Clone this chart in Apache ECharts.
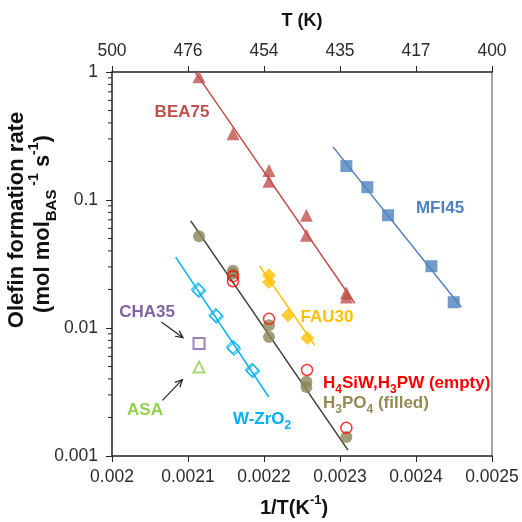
<!DOCTYPE html>
<html><head><meta charset="utf-8">
<script src="https://cdn.jsdelivr.net/npm/echarts@6/dist/echarts.min.js"></script>
<style>html,body{margin:0;padding:0;background:#fff}#c{width:522px;height:522px}</style>
</head><body><div id="c"></div>
<script>
// ---- tick labels ----
const xTickLabels = ['0.002','0.0021','0.0022','0.0023','0.0024','0.0025'];
const tTickLabels = ['500','476','454','435','417','400'];
const yTickLabels = ['0.001','0.01','0.1','1'];
const yMinorTicks = [0.002,0.003,0.004,0.005,0.006,0.007,0.008,0.009,
                     0.02,0.03,0.04,0.05,0.06,0.07,0.08,0.09,
                     0.2,0.3,0.4,0.5,0.6,0.7,0.8,0.9];

// ---- data (x = 1/T in K^-1, y = olefin formation rate) ----
const bea75X = [0.0021145,0.0021592,0.0022066,0.0022066,0.0022558,0.0022558,0.0023084,0.0023084];
const bea75Y = [0.92,0.33,0.17,0.14,0.076,0.053,0.0188,0.0175];
const bea75FitX = [0.00211,0.0023193];
const bea75FitY = [0.99,0.0156];

const mfi45X = [0.0023084,0.002336,0.0023632,0.0024203,0.0024496];
const mfi45Y = [0.184,0.126,0.076,0.0304,0.0159];
const mfi45FitX = [0.0022908,0.0024597];
const mfi45FitY = [0.26,0.01452];

const fau30X = [0.0022066,0.0022066,0.0022316,0.0022571];
const fau30Y = [0.0258,0.0229,0.01257,0.00835];
const fau30FitX = [0.0021943,0.0022667];
const fau30FitY = [0.0305,0.00732];

const wzrX = [0.0021132,0.0021145,0.0021364,0.0021375,0.0021592,0.0021605,0.0021842,0.0021855];
const wzrY = [0.0200,0.0195,0.0126,0.0123,0.0071,0.0069,0.0047,0.0046];
const wzrFitX = [0.0020838,0.0022062];
const wzrFitY = [0.0358,0.00289];

const hpaX = [0.0021592,0.0021592,0.0022066,0.0022566,0.0023084];
const hpaY = [0.0254,0.0232,0.0118,0.0047,0.00166];

const h3po4X = [0.0021145,0.0021592,0.0021592,0.0022066,0.0022066,0.0022558,0.0022558,0.0023084];
const h3po4Y = [0.052,0.028,0.0265,0.0105,0.0085,0.0038,0.00346,0.00141];
const h3po4FitX = [0.0021036,0.0023105];
const h3po4FitY = [0.0686,0.00111];

const cha35X = [0.0021145];
const cha35Y = [0.00755];
const asaX = [0.0021145];
const asaY = [0.00496];

const chaArrowX = [0.002065,0.0020934];
const chaArrowY = [0.01114,0.0084];
const asaArrowX = [0.0020663,0.0020926];
const asaArrowY = [0.00272,0.00395];

const FONT = 'Liberation Sans, Arial, sans-serif';
const zip = (xs, ys) => xs.map((x, i) => [x, ys[i]]);

const scatter = (name, xs, ys, symbol, size, itemStyle, z) => ({
  name, type: 'scatter', data: zip(xs, ys), symbol, symbolSize: size,
  itemStyle, z: z || 3, silent: true
});
const fit = (name, xs, ys, color, w) => ({
  name, type: 'line', data: zip(xs, ys), symbol: 'none', silent: true,
  lineStyle: { color, width: w || 1.5 }, z: 2
});
const arrow = (xs, ys) => ({
  type: 'custom', silent: true, clip: false, z: 6,
  data: [[xs[0], ys[0], xs[1], ys[1]]],
  renderItem: (params, api) => {
    const a = api.coord([api.value(0), api.value(1)]);
    const b = api.coord([api.value(2), api.value(3)]);
    const ang = Math.atan2(b[1] - a[1], b[0] - a[0]);
    const L = 8, w = 0.45;
    const h1 = [b[0] - L * Math.cos(ang - w), b[1] - L * Math.sin(ang - w)];
    const h2 = [b[0] - L * Math.cos(ang + w), b[1] - L * Math.sin(ang + w)];
    return { type: 'group', children: [
      { type: 'line', shape: { x1: a[0], y1: a[1], x2: b[0], y2: b[1] }, style: { stroke: '#222', lineWidth: 1.2 } },
      { type: 'polyline', shape: { points: [h1, b, h2] }, style: { stroke: '#222', lineWidth: 1.2, fill: null } }
    ] };
  }
});

const chart = echarts.init(document.getElementById('c'), null, { renderer: 'canvas' });
const axisText = { color: '#2b2b2b', fontFamily: FONT, fontSize: 17.5 };

const option = {
  animation: false,
  backgroundColor: '#fff',
  textStyle: { fontFamily: FONT },
  grid: { left: 112, right: 30, top: 72, bottom: 66 },
  xAxis: [
    {
      type: 'value', position: 'bottom', min: 0.002, max: 0.0025, interval: 0.0001,
      axisLine: { lineStyle: { color: '#222', width: 1.5 } },
      axisTick: { length: 6, lineStyle: { color: '#222' } },
      splitLine: { show: false },
      axisLabel: Object.assign({ margin: 12,
        formatter: v => xTickLabels[Math.round((v - 0.002) / 0.0001)] }, axisText)
    },
    {
      type: 'value', position: 'top', min: 0.002, max: 0.0025, interval: 0.0001,
      axisLine: { lineStyle: { color: '#222', width: 1.5 } },
      axisTick: { length: 6, lineStyle: { color: '#222' } },
      splitLine: { show: false },
      axisLabel: Object.assign({ margin: 12,
        formatter: v => tTickLabels[Math.round((v - 0.002) / 0.0001)] }, axisText)
    }
  ],
  yAxis: [
    {
      type: 'log', logBase: 10, min: 0.001, max: 1, position: 'left',
      axisLine: { show: true, lineStyle: { color: '#222', width: 1.5 } },
      axisTick: { show: true, length: 6, lineStyle: { color: '#222' } },
      splitLine: { show: false },
      axisLabel: Object.assign({ margin: 14,
        formatter: v => yTickLabels[Math.round(Math.log10(v)) + 3] }, axisText)
    },
    {
      type: 'value', min: 0, max: 1, position: 'right',
      axisLine: { show: true, lineStyle: { color: '#a6a6a6', width: 2 } },
      axisTick: { show: false }, axisLabel: { show: false }, splitLine: { show: false }
    }
  ],
  series: [
    {
      type: 'custom', silent: true, clip: false, z: 5,
      data: yMinorTicks.map(v => [0.002, v]),
      renderItem: (params, api) => {
        const p = api.coord([api.value(0), api.value(1)]);
        return { type: 'line', shape: { x1: p[0] - 4, y1: p[1], x2: p[0], y2: p[1] },
                 style: { stroke: '#222', lineWidth: 1 } };
      }
    },
    fit('BEA75 fit', bea75FitX, bea75FitY, '#C0504D'),
    fit('MFI45 fit', mfi45FitX, mfi45FitY, '#4F81BD'),
    fit('FAU30 fit', fau30FitX, fau30FitY, '#FFC000'),
    fit('W-ZrO2 fit', wzrFitX, wzrFitY, '#00B0F0'),
    fit('H3PO4 fit', h3po4FitX, h3po4FitY, '#3d3d30'),
    scatter('BEA75', bea75X, bea75Y, 'triangle', 13, { color: '#C0504D' }),
    scatter('MFI45', mfi45X, mfi45Y, 'rect', 12, { color: '#4F81BD' }),
    scatter('FAU30', fau30X, fau30Y, 'diamond', 14, { color: '#FFC000' }),
    scatter('W-ZrO2', wzrX, wzrY, 'diamond', 13,
      { color: 'rgba(255,255,255,0)', borderColor: '#00B0F0', borderWidth: 1.3 }),
    scatter('H3PO4', h3po4X, h3po4Y, 'circle', 12, { color: '#8c8658' }, 3),
    scatter('H4SiW,H3PW', hpaX, hpaY, 'circle', 11,
      { color: 'rgba(255,255,255,0)', borderColor: '#ff0000', borderWidth: 1.5 }, 4),
    scatter('CHA35', cha35X, cha35Y, 'rect', 11,
      { color: '#fff', borderColor: '#8064A2', borderWidth: 2 }),
    scatter('ASA', asaX, asaY, 'triangle', 11,
      { color: '#fff', borderColor: '#92D050', borderWidth: 2 }),
    arrow(chaArrowX, chaArrowY),
    arrow(asaArrowX, asaArrowY)
  ],
  graphic: [
    // axis titles
    { type: 'text', x: 302, y: 21, silent: true,
      style: { text: 'T (K)', font: 'bold 18px ' + FONT, fill: '#111', align: 'center', verticalAlign: 'middle' } },
    { type: 'text', x: 294, y: 508, silent: true,
      style: { text: '{b|1/T(K}{p|-1}{b|)}', align: 'center', verticalAlign: 'middle',
        rich: { b: { fontSize: 20, fontWeight: 'bold', fontFamily: FONT, fill: '#111', lineHeight: 28, verticalAlign: 'middle' },
                p: { fontSize: 13, fontWeight: 'bold', fontFamily: FONT, fill: '#111', lineHeight: 28, verticalAlign: 'top' } } } },
    { type: 'text', x: 17, y: 220, rotation: Math.PI / 2, silent: true,
      style: { text: 'Olefin formation rate', font: 'bold 22px ' + FONT, fill: '#111', align: 'center', verticalAlign: 'middle' } },
    { type: 'text', x: 43, y: 224, rotation: Math.PI / 2, silent: true,
      style: { text: '{b|(mol mol}{s|BAS}{p| -1}{b| s}{p|-1}{b|)}', align: 'center', verticalAlign: 'middle',
        rich: { b: { fontSize: 22, fontWeight: 'bold', fontFamily: FONT, fill: '#111', lineHeight: 32, verticalAlign: 'middle' },
                s: { fontSize: 15, fontWeight: 'bold', fontFamily: FONT, fill: '#111', lineHeight: 32, verticalAlign: 'bottom' },
                p: { fontSize: 14, fontWeight: 'bold', fontFamily: FONT, fill: '#111', lineHeight: 32, verticalAlign: 'top' } } } },
    // series labels
    { type: 'text', x: 182, y: 112, silent: true,
      style: { text: 'BEA75', font: 'bold 17px ' + FONT, fill: '#C0504D', align: 'center', verticalAlign: 'middle' } },
    { type: 'text', x: 440, y: 208, silent: true,
      style: { text: 'MFI45', font: 'bold 17px ' + FONT, fill: '#4F81BD', align: 'center', verticalAlign: 'middle' } },
    { type: 'text', x: 327, y: 317, silent: true,
      style: { text: 'FAU30', font: 'bold 17px ' + FONT, fill: '#FFC000', align: 'center', verticalAlign: 'middle' } },
    { type: 'text', x: 147, y: 312, silent: true,
      style: { text: 'CHA35', font: 'bold 17px ' + FONT, fill: '#8064A2', align: 'center', verticalAlign: 'middle' } },
    { type: 'text', x: 145, y: 410, silent: true,
      style: { text: 'ASA', font: 'bold 17px ' + FONT, fill: '#92D050', align: 'center', verticalAlign: 'middle' } },
    { type: 'text', x: 233, y: 419, silent: true,
      style: { text: '{b|W-ZrO}{s|2}', align: 'left', verticalAlign: 'middle',
        rich: { b: { fontSize: 17, fontWeight: 'bold', fontFamily: FONT, fill: '#00B0F0', lineHeight: 26, verticalAlign: 'middle' },
                s: { fontSize: 12, fontWeight: 'bold', fontFamily: FONT, fill: '#00B0F0', lineHeight: 26, verticalAlign: 'bottom' } } } },
    { type: 'text', x: 323, y: 383, silent: true,
      style: { text: '{b|H}{s|4}{b|SiW,H}{s|3}{b|PW (empty)}', align: 'left', verticalAlign: 'middle',
        rich: { b: { fontSize: 17, fontWeight: 'bold', fontFamily: FONT, fill: '#ff0000', lineHeight: 26, verticalAlign: 'middle' },
                s: { fontSize: 12, fontWeight: 'bold', fontFamily: FONT, fill: '#ff0000', lineHeight: 26, verticalAlign: 'bottom' } } } },
    { type: 'text', x: 323, y: 403, silent: true,
      style: { text: '{b|H}{s|3}{b|PO}{s|4}{b| (filled)}', align: 'left', verticalAlign: 'middle',
        rich: { b: { fontSize: 17, fontWeight: 'bold', fontFamily: FONT, fill: '#948A54', lineHeight: 26, verticalAlign: 'middle' },
                s: { fontSize: 12, fontWeight: 'bold', fontFamily: FONT, fill: '#948A54', lineHeight: 26, verticalAlign: 'bottom' } } } }
  ]
};
chart.setOption(option);
</script>
</body></html>
